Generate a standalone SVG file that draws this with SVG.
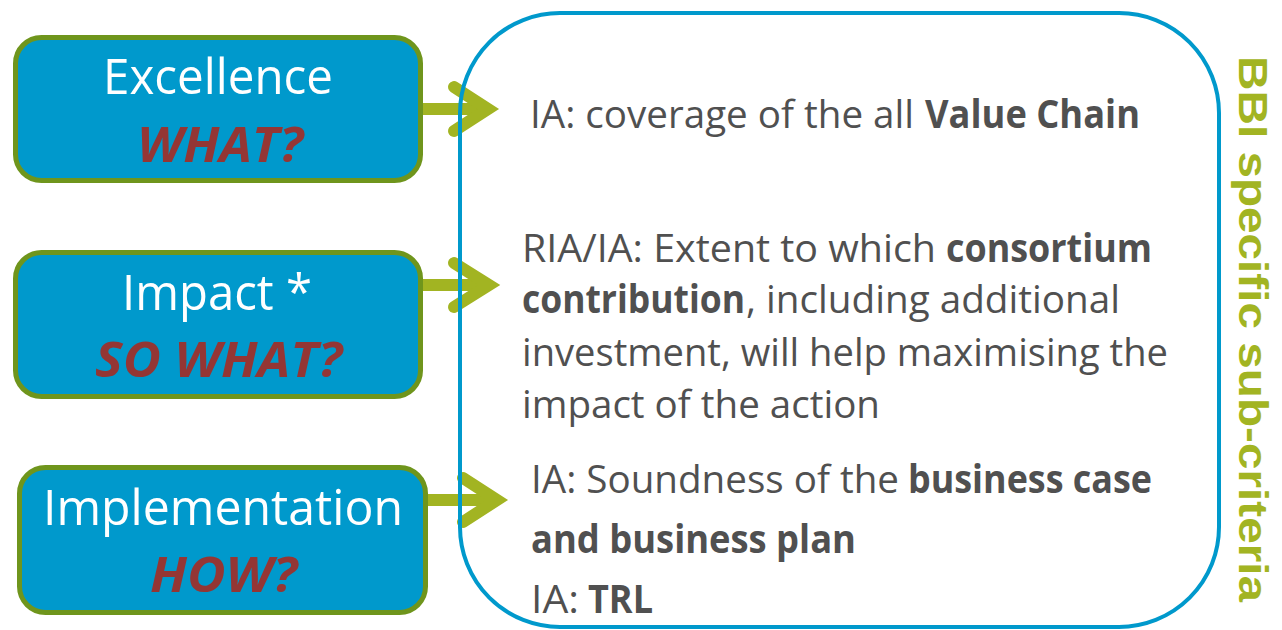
<svg xmlns="http://www.w3.org/2000/svg" width="1282" height="630" viewBox="0 0 1282 630">
<style>
.bg{fill:#ffffff}
.box{fill:#0099cc;stroke:#6f951c;stroke-width:5}
.panel{fill:none;stroke:#0099cc;stroke-width:4}
.title{font-family:"Open Sans","Liberation Sans",sans-serif;fill:#ffffff;font-size:50px}
.q{font-family:"Open Sans","Liberation Sans",sans-serif;fill:#943634;font-size:49px;font-weight:bold;font-style:italic}
.t{font-family:"Open Sans","Liberation Sans",sans-serif;fill:#505050;font-size:39px}
.b{font-weight:bold}
.side{font-family:"Liberation Sans",Arial,sans-serif;fill:#a2b422;font-size:41px;font-weight:bold}
.shaft{stroke:#a2b422;stroke-width:12;fill:none}
.head{fill:none;stroke:#a2b422;stroke-width:12;stroke-linecap:round;stroke-linejoin:miter;stroke-miterlimit:6}
</style>
<rect class="bg" x="0" y="0" width="1282" height="630"/>

<g id="connectors">
  <line class="shaft" x1="422" y1="109" x2="488" y2="109"/>
  <polyline class="head" points="454,87 488,109 454,131"/>
  <line class="shaft" x1="422" y1="285" x2="489" y2="285"/>
  <polyline class="head" points="454,263 489,285 454,307"/>
  <line class="shaft" x1="428" y1="500" x2="497" y2="500"/>
  <polyline class="head" points="463,478 497,500 463,522"/>
</g>

<g id="node-excellence">
  <rect class="box" x="15.5" y="37.5" width="405" height="143" rx="26"/>
  <text class="title" x="103" y="94" textLength="230" lengthAdjust="spacingAndGlyphs">Excellence</text>
  <text class="q" x="137" y="162" textLength="166" lengthAdjust="spacingAndGlyphs">WHAT?</text>
</g>

<g id="node-impact">
  <rect class="box" x="15.5" y="252.5" width="405" height="144" rx="26"/>
  <text class="title" x="122" y="310" textLength="190" lengthAdjust="spacingAndGlyphs">Impact *</text>
  <text class="q" x="95" y="377" textLength="247" lengthAdjust="spacingAndGlyphs">SO WHAT?</text>
</g>

<g id="node-implementation">
  <rect class="box" x="19.5" y="467.5" width="406" height="145" rx="26"/>
  <text class="title" x="43" y="525" textLength="360" lengthAdjust="spacingAndGlyphs">Implementation</text>
  <text class="q" x="150" y="592" textLength="147" lengthAdjust="spacingAndGlyphs">HOW?</text>
</g>

<g id="node-criteria">
  <rect class="panel" x="460" y="13" width="759" height="614" rx="100"/>
  <text class="t" x="530" y="128" textLength="384" lengthAdjust="spacingAndGlyphs">IA: coverage of the all</text>
  <text class="t b" x="925" y="128" textLength="215" lengthAdjust="spacingAndGlyphs">Value Chain</text>

  <text class="t" x="522" y="262" textLength="414" lengthAdjust="spacingAndGlyphs">RIA/IA: Extent to which</text>
  <text class="t b" x="946" y="262" textLength="206" lengthAdjust="spacingAndGlyphs">consortium</text>
  <text class="t b" x="522" y="313" textLength="223" lengthAdjust="spacingAndGlyphs">contribution</text>
  <text class="t" x="746" y="313" textLength="374" lengthAdjust="spacingAndGlyphs">, including additional</text>
  <text class="t" x="522" y="366" textLength="646" lengthAdjust="spacingAndGlyphs">investment, will help maximising the</text>
  <text class="t" x="522" y="418" textLength="358" lengthAdjust="spacingAndGlyphs">impact of the action</text>

  <text class="t" x="531" y="493" textLength="368" lengthAdjust="spacingAndGlyphs">IA: Soundness of the</text>
  <text class="t b" x="908" y="493" textLength="244" lengthAdjust="spacingAndGlyphs">business case</text>
  <text class="t b" x="531" y="553" textLength="325" lengthAdjust="spacingAndGlyphs">and business plan</text>
  <text class="t" x="531" y="613" textLength="48" lengthAdjust="spacingAndGlyphs">IA:</text>
  <text class="t b" x="588" y="613" textLength="65" lengthAdjust="spacingAndGlyphs">TRL</text>
</g>

<g id="label-side">
  <text class="side" transform="translate(1239,56) rotate(90)" x="0" y="0" textLength="546" lengthAdjust="spacingAndGlyphs">BBI specific sub-criteria</text>
</g>
</svg>
